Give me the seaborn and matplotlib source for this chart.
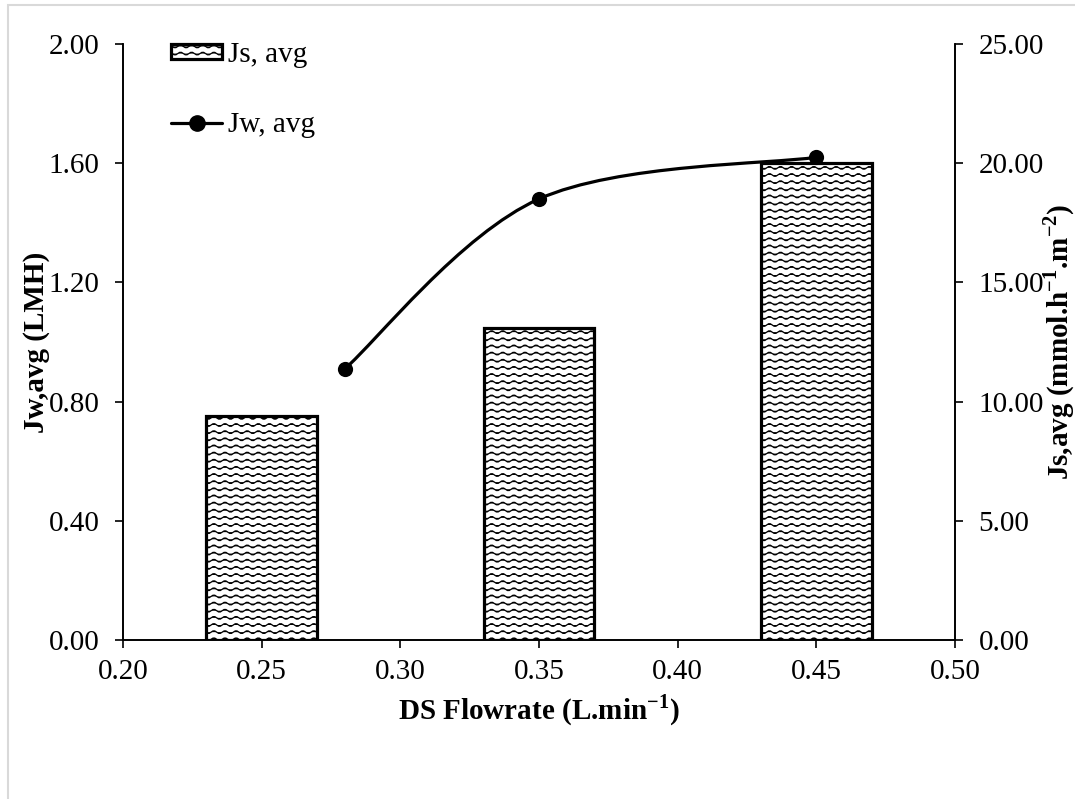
import warnings
import numpy as np
import matplotlib
matplotlib.use("Agg")
import matplotlib.pyplot as plt
import matplotlib.hatch as mhatch
from matplotlib.path import Path
from matplotlib.patches import PathPatch, Rectangle
from matplotlib.lines import Line2D
import seaborn as sns

warnings.filterwarnings("ignore", category=matplotlib.MatplotlibDeprecationWarning)

# ---- data -------------------------------------------------------------
js_flow = [0.25, 0.35, 0.45]          # DS flowrate (L/min) for Js bars
js_avg = [9.4, 13.1, 20.0]            # Js, avg (mmol h-1 m-2)
jw_flow = [0.28, 0.35, 0.45]          # DS flowrate (L/min) for Jw points
jw_avg = [0.91, 1.48, 1.62]           # Jw, avg (LMH)

x_ticks = [0.20, 0.25, 0.30, 0.35, 0.40, 0.45, 0.50]
jw_ticks = [0.00, 0.40, 0.80, 1.20, 1.60, 2.00]
js_ticks = [0.00, 5.00, 10.00, 15.00, 20.00, 25.00]


# ---- wavy hatch pattern ('w') -----------------------------------------
class WaveHatch(mhatch.HatchPatternBase):
    rows_per_w = 7
    periods = 9
    pts_per_period = 6

    def __init__(self, hatch, density):
        self.num_rows = hatch.count("w") * self.rows_per_w
        self.n_pts = self.periods * self.pts_per_period + 1
        self.num_vertices = self.num_rows * self.n_pts

    def set_vertices_and_codes(self, vertices, codes):
        xs = np.linspace(0.0, 1.0, self.n_pts)
        amp = 0.014
        wave = amp * np.sin(2 * np.pi * self.periods * xs)
        steps, step = np.linspace(0.0, 1.0, self.num_rows, False, retstep=True)
        steps += step / 2.0
        for i, y0 in enumerate(steps):
            sl = slice(i * self.n_pts, (i + 1) * self.n_pts)
            vertices[sl, 0] = xs
            vertices[sl, 1] = y0 + wave
            codes[sl] = Path.LINETO
            codes[i * self.n_pts] = Path.MOVETO


mhatch._hatch_types.append(WaveHatch)

# ---- style --------------------------------------------------------------
sns.set_theme(style="white")
plt.rcParams["font.family"] = ["Liberation Serif", "DejaVu Serif"]
plt.rcParams["mathtext.fontset"] = "custom"
plt.rcParams["mathtext.rm"] = "Liberation Serif"
plt.rcParams["mathtext.bf"] = "Liberation Serif:bold"
plt.rcParams["hatch.linewidth"] = 0.9
plt.rcParams["hatch.color"] = "black"
plt.rcParams["text.color"] = "black"
plt.rcParams["axes.labelcolor"] = "black"
plt.rcParams["xtick.color"] = "black"
plt.rcParams["ytick.color"] = "black"

FS = 21

fig = plt.figure(figsize=(10.75, 7.99), dpi=100)
ax = fig.add_axes([123 / 1075, 1 - 640 / 799, (955 - 123) / 1075, (640 - 44) / 799])
ax2 = ax.twinx()

# bars on the secondary (Js) axis
sns.barplot(x=js_flow, y=js_avg, ax=ax2, native_scale=True, width=0.4,
            color="white", saturation=1, edgecolor="black", linewidth=2.3,
            hatch="ww", label="Js, avg")
if ax2.get_legend() is not None:
    ax2.get_legend().remove()

# smoothed Jw curve (Bezier segments through the points) on primary axis
pts = np.column_stack([jw_flow, jw_avg])
verts = [pts[0]]
codes = [Path.MOVETO]
n = len(pts)
for i in range(n - 1):
    p0 = pts[max(i - 1, 0)]
    p1 = pts[i]
    p2 = pts[i + 1]
    p3 = pts[min(i + 2, n - 1)]
    verts += [p1 + (p2 - p0) / 6.0, p2 - (p3 - p1) / 6.0, p2]
    codes += [Path.CURVE4] * 3
ax.add_patch(PathPatch(Path(verts, codes), fill=False, edgecolor="black",
                       lw=2.3, zorder=3, capstyle="round"))
sns.scatterplot(x=jw_flow, y=jw_avg, ax=ax, s=120, color="black",
                edgecolor="black", linewidth=0, zorder=4)

ax.set_zorder(ax2.get_zorder() + 1)
ax.patch.set_visible(False)

# ---- axes ---------------------------------------------------------------
ax.set_xlim(0.20, 0.50)
ax.set_ylim(0, 2.0)
ax2.set_ylim(0, 25.0)
ax.set_xticks(x_ticks)
ax.set_xticklabels([f"{v:.2f}" for v in x_ticks])
ax.set_yticks(jw_ticks)
ax.set_yticklabels([f"{v:.2f}" for v in jw_ticks])
ax2.set_yticks(js_ticks)
ax2.set_yticklabels([f"{v:.2f}" for v in js_ticks])

for a in (ax, ax2):
    a.spines["top"].set_visible(False)
    for s in ("left", "right", "bottom"):
        a.spines[s].set_linewidth(1.2)
        a.spines[s].set_color("black")
    a.grid(False)

ax.tick_params(axis="x", direction="out", length=6, width=1.2, pad=8,
               labelsize=FS, bottom=True, colors="black")
ax.tick_params(axis="y", direction="out", length=6, width=1.2, pad=11,
               labelsize=FS, left=True, right=False, colors="black")
ax2.tick_params(axis="y", direction="out", length=6, width=1.2, pad=11,
                labelsize=FS, right=True, left=False, colors="black")
ax2.tick_params(axis="x", bottom=False, labelbottom=False)
ax2.set_xlabel("")

ax.set_xlabel(r"DS Flowrate (L.min$^{\mathbf{-1}}$)", fontsize=FS,
              fontweight="bold", labelpad=5)
ax.set_ylabel("Jw,avg (LMH)", fontsize=FS, fontweight="bold")
ax.yaxis.set_label_coords(-0.088, 0.5)
ax2.set_ylabel(r"Js,avg (mmol.h$^{\mathbf{-1}}$.m$^{\mathbf{-2}}$)",
               fontsize=FS, fontweight="bold")
ax2.yaxis.set_label_coords(1.104, 0.5)

# ---- legend -------------------------------------------------------------
h_bar, l_bar = ax2.get_legend_handles_labels()
jw_handle = Line2D([], [], color="black", lw=2.3, marker="o", markersize=11)
leg = ax.legend(h_bar + [jw_handle], l_bar + ["Jw, avg"],
                loc="upper left", bbox_to_anchor=(0.058, 1.003),
                frameon=False, fontsize=FS, handlelength=1.75,
                handleheight=0.4, handletextpad=0.2, labelspacing=1.5,
                borderpad=0, borderaxespad=0)

# light chart-area border
fig.patches.append(Rectangle((8 / 1075, -0.05), 1.2, 1.05 - 5 / 799,
                             transform=fig.transFigure, fill=False,
                             edgecolor="#d9d9d9", lw=1.5, zorder=0))

fig.savefig("out.png", dpi=100, facecolor="white")
